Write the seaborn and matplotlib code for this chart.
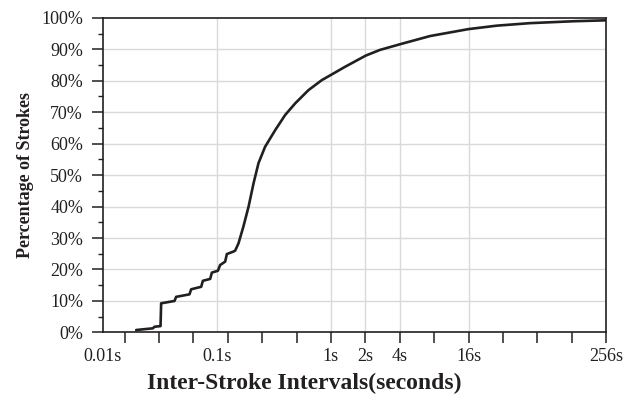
import numpy as np
import pandas as pd
import matplotlib
matplotlib.use("Agg")
import matplotlib.pyplot as plt
from matplotlib.ticker import FixedLocator, NullFormatter, FixedFormatter
import seaborn as sns

# Cumulative distribution of inter-stroke intervals (seconds vs. % of strokes)
interval_s = [0.0197, 0.0276, 0.0285, 0.0322, 0.0326, 0.0427, 0.0441, 0.0577,
              0.0597, 0.0731, 0.0756, 0.0876, 0.0906, 0.1023, 0.107, 0.1185,
              0.1226, 0.140, 0.145, 0.155, 0.171, 0.190, 0.210, 0.232, 0.265,
              0.325, 0.397, 0.486, 0.635, 0.832, 1.017, 1.31, 2.02, 2.69,
              4.03, 7.37, 15.96, 28.3, 55.3, 132.0, 256.0]
pct_strokes = [0.76, 1.3, 1.8, 2.0, 9.25, 10.0, 11.3, 12.1,
               13.7, 14.5, 16.4, 17.0, 19.0, 19.6, 21.4, 22.5,
               24.9, 25.7, 26.0, 28.3, 33.6, 40.0, 47.4, 53.8, 59.0,
               64.3, 69.1, 72.8, 77.0, 80.2, 82.0, 84.3, 88.0, 89.8,
               91.6, 94.2, 96.4, 97.5, 98.3, 98.9, 99.2]

x_label_pos = [0.01, 0.1, 1, 2, 4, 16, 256]
x_label_txt = ["0.01s", "0.1s", "1s", "2s", "4s", "16s", "256s"]
x_grid_pos = [0.1, 1, 2, 4, 16]
x_tick_pos = [2.0 ** k for k in range(-6, 9)]
y_major = list(range(0, 101, 10))
y_minor = list(range(5, 100, 10))

df = pd.DataFrame({"interval": interval_s, "pct": pct_strokes})

sns.set_theme(style="ticks")
plt.rcParams["font.family"] = ["Liberation Serif", "DejaVu Serif"]

ink = "#231f20"
fig = plt.figure(figsize=(6.36, 3.99), dpi=100)
ax = fig.add_axes([0.1612, 0.1669, 0.7917, 0.7885])

# light reference grid
for g in x_grid_pos:
    ax.axvline(g, color="#d9d9d9", lw=1.0, zorder=0)
for g in y_major[1:-1]:
    ax.axhline(g, color="#d9d9d9", lw=1.0, zorder=0)

sns.lineplot(data=df, x="interval", y="pct", sort=False, estimator=None,
             color=ink, lw=1.9, ax=ax, zorder=3)

ax.set_xscale("log", base=2)
ax.set_xlim(0.01, 256)
ax.set_ylim(0, 100)

# x: unlabeled ticks at powers of two, labels at named positions
ax.xaxis.remove_overlapping_locs = False
ax.xaxis.set_major_locator(FixedLocator(x_tick_pos))
ax.xaxis.set_major_formatter(NullFormatter())
ax.xaxis.set_minor_locator(FixedLocator(x_label_pos))
ax.xaxis.set_minor_formatter(FixedFormatter(x_label_txt))
ax.tick_params(axis="x", which="major", direction="out", length=8, width=1.1, color=ink)
ax.tick_params(axis="x", which="minor", length=0, pad=11, labelsize=13, labelcolor=ink)

ax.yaxis.set_major_locator(FixedLocator(y_major))
ax.set_yticklabels([f"{v}%" for v in y_major])
ax.yaxis.set_minor_locator(FixedLocator(y_minor))
ax.tick_params(axis="y", which="major", direction="out", length=8, width=1.1,
               color=ink, pad=6, labelsize=13, labelcolor=ink)
ax.tick_params(axis="y", which="minor", direction="out", length=3.5, width=1.0, color=ink)

for side in ["left", "bottom", "top", "right"]:
    ax.spines[side].set_visible(True)
    ax.spines[side].set_color(ink)
    ax.spines[side].set_linewidth(1.2)

ax.set_xlabel("Inter-Stroke Intervals(seconds)", fontsize=17, fontweight="bold", color=ink)
ax.set_ylabel("Percentage of Strokes", fontsize=13, fontweight="bold", color=ink)
ax.xaxis.set_label_coords(0.40, -0.13)
ax.yaxis.set_label_coords(-0.136, 0.5)

fig.savefig("out.png", dpi=100, facecolor="white")
